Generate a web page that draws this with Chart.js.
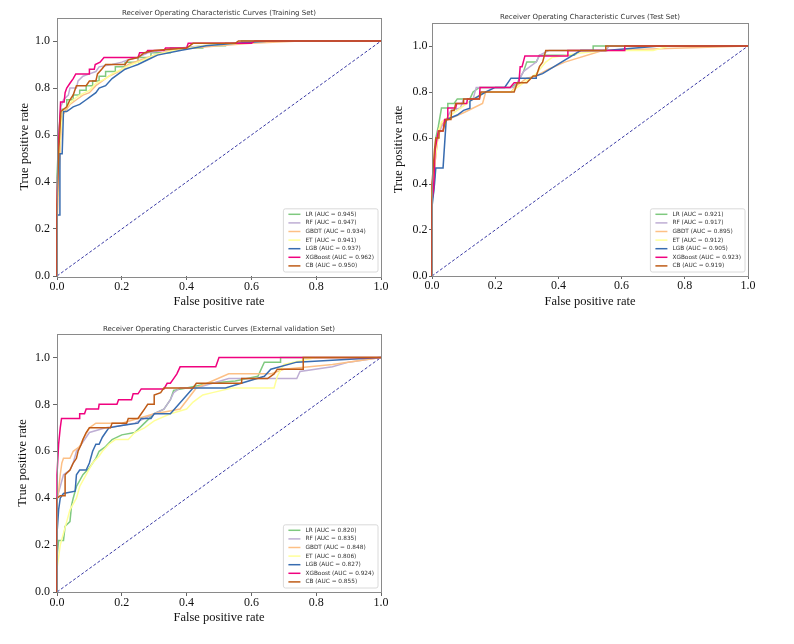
<!DOCTYPE html>
<html>
<head>
<meta charset="utf-8">
<script src="https://cdn.jsdelivr.net/npm/chart.js@4.4.1/dist/chart.umd.min.js"></script>
<style>
  html, body { margin: 0; padding: 0; background: #fff; }
  body { width: 794px; height: 644px; position: relative; overflow: hidden; }
  canvas { position: absolute; }
</style>
</head>
<body>
<canvas id="trainChart" width="395" height="312" style="left:0;top:0"></canvas>
<canvas id="testChart" width="409" height="312" style="left:385px;top:0"></canvas>
<canvas id="extChart" width="395" height="312" style="left:0;top:318px"></canvas>
<script>
// Models, colours (matplotlib "Accent") and AUC values from the legends
const models = ['LR', 'RF', 'GBDT', 'ET', 'LGB', 'XGBoost', 'CB'];
const modelColors = ['#7fc97f', '#beaed4', '#fdc086', '#ffff99', '#386cb0', '#f0027f', '#bf5b17'];
const trainAuc = ['0.945', '0.947', '0.934', '0.941', '0.937', '0.962', '0.950'];
const testAuc = ['0.921', '0.917', '0.895', '0.912', '0.905', '0.923', '0.919'];
const extAuc = ['0.820', '0.835', '0.848', '0.806', '0.827', '0.924', '0.855'];
const tickValues = [0, 0.2, 0.4, 0.6, 0.8, 1.0];
const chance = [[0, 0], [1, 1]];

// ROC curves: [false positive rate, true positive rate]
// Training set
const trainLR = [[0,0],[0,0.42],[0.006,0.62],[0.012,0.71],[0.03,0.71],[0.03,0.75],[0.05,0.75],[0.05,0.77],[0.07,0.77],[0.07,0.79],[0.09,0.79],[0.09,0.81],[0.11,0.81],[0.11,0.83],[0.13,0.83],[0.13,0.85],[0.15,0.85],[0.15,0.87],[0.18,0.87],[0.18,0.89],[0.21,0.89],[0.21,0.91],[0.25,0.91],[0.25,0.93],[0.29,0.93],[0.29,0.95],[0.35,0.95],[0.35,0.97],[0.45,0.97],[0.45,0.98],[0.52,0.98],[0.52,0.99],[0.57,0.99],[0.57,1],[1,1]];
const trainRF = [[0,0],[0,0.3],[0.006,0.6],[0.012,0.72],[0.02,0.75],[0.035,0.77],[0.04,0.8],[0.06,0.8],[0.065,0.83],[0.08,0.85],[0.1,0.86],[0.12,0.87],[0.13,0.89],[0.17,0.9],[0.2,0.91],[0.22,0.92],[0.25,0.93],[0.28,0.95],[0.32,0.96],[0.38,0.97],[0.45,0.98],[0.55,0.99],[0.6,1],[1,1]];
const trainGBDT = [[0,0],[0,0.22],[0.01,0.55],[0.015,0.68],[0.025,0.7],[0.04,0.73],[0.06,0.75],[0.08,0.77],[0.1,0.78],[0.12,0.81],[0.14,0.83],[0.16,0.85],[0.19,0.87],[0.22,0.9],[0.26,0.92],[0.3,0.94],[0.35,0.96],[0.42,0.97],[0.5,0.98],[0.6,0.99],[0.75,1],[1,1]];
const trainET = [[0,0],[0,0.3],[0.01,0.6],[0.018,0.7],[0.03,0.72],[0.05,0.75],[0.07,0.77],[0.1,0.79],[0.12,0.82],[0.15,0.84],[0.17,0.86],[0.2,0.88],[0.23,0.9],[0.27,0.92],[0.3,0.94],[0.36,0.96],[0.45,0.98],[0.55,0.99],[0.65,1],[1,1]];
const trainLGB = [[0,0],[0,0.26],[0.009,0.26],[0.009,0.52],[0.016,0.52],[0.02,0.7],[0.03,0.7],[0.05,0.72],[0.07,0.73],[0.09,0.75],[0.1,0.76],[0.12,0.78],[0.13,0.8],[0.15,0.81],[0.17,0.84],[0.19,0.86],[0.21,0.88],[0.23,0.89],[0.25,0.9],[0.28,0.92],[0.31,0.94],[0.38,0.96],[0.46,0.98],[0.55,0.99],[0.66,1],[1,1]];
const trainXGB = [[0,0],[0,0.3],[0.004,0.55],[0.008,0.65],[0.011,0.74],[0.022,0.74],[0.025,0.78],[0.03,0.8],[0.04,0.82],[0.05,0.84],[0.058,0.86],[0.099,0.86],[0.1,0.88],[0.115,0.88],[0.118,0.9],[0.133,0.91],[0.145,0.93],[0.25,0.93],[0.255,0.95],[0.275,0.95],[0.28,0.96],[0.33,0.96],[0.335,0.97],[0.4,0.97],[0.405,0.99],[0.6,0.99],[0.61,1],[1,1]];
const trainCB = [[0,0],[0,0.3],[0.006,0.55],[0.012,0.7],[0.03,0.72],[0.04,0.75],[0.05,0.77],[0.055,0.79],[0.06,0.81],[0.09,0.81],[0.1,0.83],[0.12,0.83],[0.125,0.86],[0.138,0.88],[0.15,0.9],[0.21,0.9],[0.22,0.92],[0.25,0.93],[0.27,0.95],[0.3,0.96],[0.4,0.97],[0.42,0.99],[0.55,0.99],[0.56,1],[1,1]];

// Test set
const testLR = [[0,0],[0,0.38],[0.008,0.43],[0.012,0.6],[0.02,0.65],[0.03,0.73],[0.05,0.73],[0.05,0.75],[0.07,0.75],[0.08,0.77],[0.12,0.77],[0.13,0.8],[0.15,0.82],[0.25,0.82],[0.27,0.84],[0.29,0.89],[0.3,0.93],[0.33,0.93],[0.34,0.96],[0.45,0.96],[0.47,0.98],[0.51,0.98],[0.51,1],[1,1]];
const testRF = [[0,0],[0,0.33],[0.006,0.37],[0.01,0.5],[0.018,0.6],[0.03,0.65],[0.045,0.68],[0.06,0.72],[0.09,0.73],[0.1,0.77],[0.13,0.77],[0.14,0.82],[0.26,0.82],[0.27,0.84],[0.29,0.89],[0.31,0.91],[0.33,0.93],[0.34,0.96],[0.37,0.98],[0.55,0.98],[0.56,1],[1,1]];
const testGBDT = [[0,0],[0,0.4],[0.01,0.5],[0.02,0.62],[0.03,0.66],[0.05,0.68],[0.1,0.71],[0.16,0.75],[0.17,0.8],[0.25,0.8],[0.27,0.83],[0.3,0.86],[0.33,0.87],[0.37,0.9],[0.42,0.93],[0.54,0.98],[1,1]];
const testET = [[0,0],[0,0.35],[0.01,0.5],[0.02,0.63],[0.03,0.67],[0.06,0.7],[0.09,0.73],[0.13,0.77],[0.17,0.8],[0.25,0.8],[0.27,0.82],[0.3,0.85],[0.33,0.88],[0.36,0.93],[0.38,0.95],[0.47,0.97],[0.55,0.98],[0.7,0.98],[0.75,1],[1,1]];
const testLGB = [[0,0],[0,0.3],[0.008,0.4],[0.012,0.47],[0.035,0.47],[0.045,0.68],[0.08,0.7],[0.1,0.72],[0.12,0.73],[0.12,0.76],[0.17,0.8],[0.2,0.82],[0.23,0.82],[0.25,0.86],[0.33,0.86],[0.33,0.87],[0.35,0.88],[0.47,0.98],[0.55,0.98],[0.72,1],[1,1]];
const testXGB = [[0,0],[0,0.33],[0.005,0.38],[0.01,0.55],[0.015,0.59],[0.02,0.63],[0.035,0.63],[0.04,0.68],[0.048,0.68],[0.05,0.73],[0.075,0.73],[0.078,0.75],[0.11,0.75],[0.112,0.77],[0.15,0.77],[0.152,0.82],[0.247,0.82],[0.26,0.84],[0.275,0.84],[0.279,0.91],[0.285,0.91],[0.294,0.957],[0.43,0.957],[0.43,0.98],[0.61,0.98],[0.61,1],[1,1]];
const testCB = [[0,0],[0,0.4],[0.008,0.55],[0.012,0.6],[0.02,0.6],[0.022,0.63],[0.035,0.63],[0.04,0.66],[0.045,0.68],[0.06,0.68],[0.062,0.72],[0.07,0.72],[0.075,0.75],[0.1,0.75],[0.1,0.77],[0.15,0.77],[0.155,0.8],[0.26,0.8],[0.27,0.84],[0.3,0.84],[0.32,0.87],[0.33,0.87],[0.34,0.91],[0.35,0.93],[0.36,0.98],[0.55,0.98],[0.55,1],[1,1]];

// External validation set
const extLR = [[0,0],[0,0.15],[0.005,0.22],[0.02,0.22],[0.025,0.28],[0.04,0.3],[0.045,0.37],[0.05,0.4],[0.06,0.45],[0.08,0.5],[0.1,0.53],[0.12,0.57],[0.13,0.6],[0.15,0.62],[0.17,0.65],[0.2,0.67],[0.24,0.68],[0.27,0.72],[0.3,0.76],[0.33,0.78],[0.35,0.82],[0.36,0.86],[0.4,0.87],[0.47,0.89],[0.55,0.9],[0.62,0.92],[0.64,0.98],[0.69,0.98],[0.69,1],[1,1]];
const extRF = [[0,0],[0,0.4],[0.01,0.45],[0.02,0.5],[0.04,0.52],[0.05,0.55],[0.06,0.6],[0.075,0.63],[0.09,0.66],[0.1,0.68],[0.15,0.7],[0.2,0.71],[0.24,0.72],[0.3,0.76],[0.33,0.78],[0.35,0.82],[0.36,0.85],[0.38,0.87],[0.43,0.87],[0.53,0.91],[0.74,0.91],[0.75,0.94],[0.85,0.96],[0.9,0.98],[1,1]];
const extGBDT = [[0,0],[0,0.4],[0.005,0.43],[0.01,0.5],[0.015,0.55],[0.02,0.57],[0.04,0.57],[0.05,0.6],[0.07,0.62],[0.08,0.65],[0.1,0.7],[0.12,0.72],[0.2,0.72],[0.25,0.74],[0.3,0.76],[0.34,0.77],[0.38,0.78],[0.43,0.87],[0.53,0.93],[0.66,0.93],[0.7,0.95],[0.85,0.97],[1,1]];
const extET = [[0,0],[0,0.1],[0.005,0.15],[0.01,0.2],[0.02,0.25],[0.03,0.3],[0.04,0.35],[0.06,0.4],[0.07,0.45],[0.09,0.5],[0.11,0.55],[0.13,0.58],[0.14,0.6],[0.16,0.63],[0.18,0.65],[0.22,0.65],[0.24,0.68],[0.27,0.7],[0.3,0.73],[0.35,0.76],[0.4,0.78],[0.42,0.81],[0.45,0.84],[0.48,0.85],[0.54,0.87],[0.67,0.87],[0.68,0.92],[0.7,0.97],[0.73,0.98],[0.8,1],[1,1]];
const extLGB = [[0,0],[0,0.25],[0.005,0.35],[0.01,0.4],[0.02,0.42],[0.056,0.43],[0.06,0.5],[0.07,0.52],[0.09,0.52],[0.1,0.55],[0.11,0.6],[0.12,0.63],[0.13,0.63],[0.14,0.66],[0.15,0.68],[0.16,0.7],[0.2,0.71],[0.25,0.72],[0.26,0.74],[0.29,0.74],[0.3,0.76],[0.35,0.76],[0.42,0.87],[0.52,0.87],[0.64,0.92],[0.66,0.95],[0.74,0.98],[1,1]];
const extXGB = [[0,0],[0,0.5],[0.005,0.63],[0.01,0.7],[0.014,0.74],[0.069,0.74],[0.07,0.76],[0.085,0.76],[0.09,0.78],[0.128,0.78],[0.13,0.8],[0.185,0.8],[0.19,0.82],[0.23,0.82],[0.235,0.845],[0.25,0.845],[0.26,0.866],[0.33,0.866],[0.34,0.89],[0.35,0.89],[0.36,0.91],[0.37,0.93],[0.38,0.96],[0.49,0.96],[0.5,1],[1,1]];
const extCB = [[0,0],[0,0.4],[0.01,0.41],[0.025,0.41],[0.025,0.5],[0.04,0.52],[0.05,0.55],[0.06,0.57],[0.065,0.6],[0.075,0.63],[0.08,0.65],[0.09,0.68],[0.1,0.7],[0.165,0.7],[0.17,0.72],[0.215,0.72],[0.22,0.74],[0.25,0.74],[0.26,0.76],[0.27,0.78],[0.28,0.8],[0.3,0.8],[0.3,0.84],[0.32,0.85],[0.33,0.87],[0.42,0.87],[0.43,0.89],[0.57,0.89],[0.57,0.91],[0.65,0.91],[0.67,0.93],[0.68,0.95],[0.76,0.95],[0.76,1],[1,1]];

const tickFont = { family: '"Liberation Serif", "Times New Roman", serif', size: 12 };
const axisFont = { family: '"Liberation Serif", "Times New Roman", serif', size: 12.5 };
const smallFont = '"DejaVu Sans", sans-serif';

// frame round the axes + legend box in the lower right corner
const framePlugin = {
  id: 'frameLegend',
  afterDatasetsDraw(chart) {
    const { ctx, chartArea: a } = chart;
    ctx.save();
    ctx.strokeStyle = '#8a8a8a';
    ctx.lineWidth = 1;
    ctx.strokeRect(Math.round(a.left) + 0.5, Math.round(a.top) + 0.5,
      Math.round(a.right - a.left), Math.round(a.bottom - a.top));

    const sets = chart.data.datasets.filter(d => d.inLegend);
    ctx.font = '5.8px ' + smallFont;
    let maxW = 0;
    sets.forEach(d => { maxW = Math.max(maxW, ctx.measureText(d.label).width); });
    const rowH = 8.6;
    const w = 22 + maxW + 4;
    const h = sets.length * rowH + 3;
    const x0 = a.right - 3 - w;
    const y0 = a.bottom - 4 - h;
    ctx.fillStyle = 'rgba(255,255,255,0.85)';
    ctx.strokeStyle = '#d0d0d0';
    ctx.lineWidth = 0.8;
    ctx.beginPath();
    ctx.roundRect(x0, y0, w, h, 2);
    ctx.fill();
    ctx.stroke();
    ctx.textBaseline = 'middle';
    sets.forEach((d, i) => {
      const cy = y0 + 5.5 + i * rowH;
      ctx.strokeStyle = d.borderColor;
      ctx.lineWidth = 1.5;
      ctx.beginPath();
      ctx.moveTo(x0 + 5, cy);
      ctx.lineTo(x0 + 17, cy);
      ctx.stroke();
      ctx.fillStyle = '#333';
      ctx.fillText(d.label, x0 + 22, cy);
    });
    ctx.restore();
  }
};

function makeChart(id, titleText, curves, aucs, p) {
  const datasets = curves.map((c, i) => ({
    label: models[i] + ' (AUC = ' + aucs[i] + ')',
    data: c.map(pt => ({ x: pt[0], y: pt[1] })),
    borderColor: modelColors[i],
    borderWidth: 1.5,
    pointRadius: 0,
    tension: 0,
    fill: false,
    clip: 3,
    order: curves.length - i,
    inLegend: true
  }));
  datasets.push({
    label: 'chance',
    data: chance.map(pt => ({ x: pt[0], y: pt[1] })),
    borderColor: '#23239a',
    borderWidth: 0.9,
    borderDash: [3, 2],
    pointRadius: 0,
    fill: false,
    order: curves.length + 1,
    inLegend: false
  });

  new Chart(document.getElementById(id), {
    type: 'line',
    data: { datasets },
    plugins: [framePlugin],
    options: {
      responsive: false,
      animation: false,
      events: [],
      layout: { padding: { left: 0, top: 0, right: p.padR, bottom: 0 } },
      plugins: {
        legend: { display: false },
        tooltip: { enabled: false },
        title: {
          display: true,
          fullSize: false,
          text: titleText,
          color: '#333',
          font: { family: smallFont, size: 7, weight: 'normal', lineHeight: 1.2 },
          padding: { top: p.titleTop, bottom: p.titleBottom }
        }
      },
      scales: {
        x: {
          type: 'linear', min: 0, max: 1,
          afterFit: s => { s.height = p.xAxisH; },
          afterBuildTicks: s => { s.ticks = tickValues.map(v => ({ value: v })); },
          ticks: { color: '#111', font: tickFont, padding: 0, autoSkip: false, maxRotation: 0,
                   callback: v => Number(v).toFixed(1) },
          grid: { drawOnChartArea: false, tickLength: p.xTick, color: '#666' },
          border: { display: false },
          title: { display: true, text: 'False positive rate', color: '#111', font: axisFont,
                   padding: { top: 0, bottom: p.xTitlePad } }
        },
        y: {
          type: 'linear', min: 0, max: 1.1,
          afterFit: s => { s.width = p.yAxisW; },
          afterBuildTicks: s => { s.ticks = tickValues.map(v => ({ value: v })); },
          ticks: { color: '#111', font: tickFont, padding: p.yTickPad, autoSkip: false,
                   callback: v => Number(v).toFixed(1) },
          grid: { drawOnChartArea: false, tickLength: p.yTick, color: '#666' },
          border: { display: false },
          title: { display: true, text: 'True positive rate', color: '#111', font: axisFont,
                   padding: { top: p.yTitlePad, bottom: 0 } }
        }
      }
    }
  });
}

makeChart('trainChart', 'Receiver Operating Characteristic Curves (Training Set)',
  [trainLR, trainRF, trainGBDT, trainET, trainLGB, trainXGB, trainCB], trainAuc,
  { padR: 14, titleTop: 9.1, titleBottom: 0, xAxisH: 36, xTick: 4, xTitlePad: 2.5, yAxisW: 57, yTick: 4, yTickPad: 3, yTitlePad: 17.5 });

makeChart('testChart', 'Receiver Operating Characteristic Curves (Test Set)',
  [testLR, testRF, testGBDT, testET, testLGB, testXGB, testCB], testAuc,
  { padR: 46, titleTop: 13.1, titleBottom: 1.5, xAxisH: 36, xTick: 3, xTitlePad: 2.8, yAxisW: 47, yTick: 3, yTickPad: 1.5, yTitlePad: 6.5 });

makeChart('extChart', 'Receiver Operating Characteristic Curves (External validation Set)',
  [extLR, extRF, extGBDT, extET, extLGB, extXGB, extCB], extAuc,
  { padR: 14, titleTop: 6.8, titleBottom: 0.8, xAxisH: 38, xTick: 4, xTitlePad: 4.5, yAxisW: 57, yTick: 4, yTickPad: 3, yTitlePad: 15.5 });
</script>
</body>
</html>
